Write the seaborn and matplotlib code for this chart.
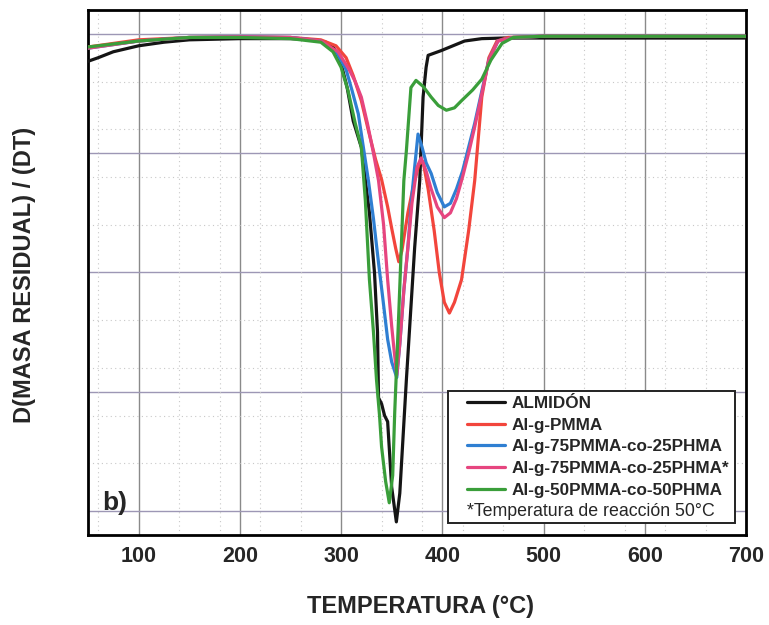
import numpy as np
import pandas as pd
import matplotlib
matplotlib.use("Agg")
import matplotlib.pyplot as plt
from matplotlib.ticker import MultipleLocator, NullFormatter
from matplotlib.patches import Rectangle
import seaborn as sns

# ---------------- data ----------------
series_names = ["ALMIDÓN", "Al-g-PMMA", "Al-g-75PMMA-co-25PHMA",
                "Al-g-75PMMA-co-25PHMA*", "Al-g-50PMMA-co-50PHMA"]

almidon_T = [50, 60, 75, 100, 125, 150, 200, 250, 275, 285, 293, 300, 306, 312,
             320, 328, 333, 336, 337, 340, 343, 346, 350, 354.6, 358, 364.5,
             372.7, 377.7, 381, 384, 386, 399, 422, 439, 460, 500, 550, 600, 650, 700]
almidon_Y = [-0.23, -0.20, -0.15, -0.10, -0.07, -0.05, -0.04, -0.04, -0.05, -0.07,
             -0.12, -0.25, -0.45, -0.73, -0.95, -1.50, -2.0, -2.5, -3.05, -3.1,
             -3.2, -3.25, -3.8, -4.09, -3.85, -2.9, -1.79, -1.23, -0.53, -0.28,
             -0.18, -0.14, -0.06, -0.04, -0.035, -0.035, -0.035, -0.035, -0.035, -0.035]

pmma_T = [50, 75, 100, 150, 200, 250, 280, 295, 305, 312, 320, 327, 334, 340, 346,
          350, 354, 357, 360, 366, 372, 377, 381, 386, 392, 397, 402, 407, 412, 419,
          426, 432, 439, 446, 454, 465, 500, 600, 700]
pmma_Y = [-0.11, -0.08, -0.05, -0.03, -0.025, -0.03, -0.05, -0.1, -0.2, -0.35,
          -0.56, -0.81, -1.05, -1.22, -1.45, -1.63, -1.8, -1.91, -1.82, -1.5, -1.25,
          -1.09, -1.07, -1.3, -1.65, -2.0, -2.25, -2.34, -2.25, -2.06, -1.65, -1.23,
          -0.53, -0.2, -0.06, -0.03, -0.02, -0.02, -0.02]

co75_T = [50, 100, 150, 200, 250, 280, 295, 305, 311, 317, 322, 327, 332, 337, 341,
          346, 350, 355, 358, 362, 366, 370, 373, 376, 380, 384, 389, 395, 402, 408,
          414, 420, 426, 432, 439, 446, 455, 470, 500, 700]
co75_Y = [-0.12, -0.06, -0.03, -0.025, -0.03, -0.06, -0.15, -0.3, -0.48, -0.67,
          -0.95, -1.23, -1.55, -1.92, -2.2, -2.56, -2.75, -2.88, -2.6, -2.15, -1.79,
          -1.35, -1.09, -0.84, -0.95, -1.08, -1.17, -1.33, -1.45, -1.42, -1.3, -1.15,
          -0.95, -0.75, -0.48, -0.22, -0.06, -0.03, -0.02, -0.02]

co75b_T = [50, 100, 150, 200, 250, 280, 297, 308, 314, 320, 326, 332, 337, 342, 346,
           350, 352, 355, 358, 362, 366, 370, 375, 379, 384, 389, 395, 402, 408, 414,
           420, 426, 432, 439, 446, 455, 470, 500, 700]
co75b_Y = [-0.12, -0.06, -0.03, -0.025, -0.03, -0.06, -0.15, -0.3, -0.4, -0.53,
           -0.75, -1.0, -1.23, -1.6, -2.06, -2.45, -2.62, -2.86, -2.6, -2.15, -1.79,
           -1.42, -1.12, -1.04, -1.15, -1.3, -1.45, -1.54, -1.5, -1.38, -1.2, -1.0,
           -0.78, -0.5, -0.22, -0.06, -0.03, -0.02, -0.02]

co50_T = [50, 100, 150, 200, 250, 280, 292, 300, 307, 314, 320, 324, 328, 332, 335,
          338, 340, 344, 347.6, 351, 353, 357, 362, 364.5, 369, 374, 381, 389, 396,
          404, 412, 419, 430, 439, 448, 459, 470, 500, 700]
co50_Y = [-0.11, -0.06, -0.03, -0.03, -0.04, -0.07, -0.15, -0.28, -0.48, -0.75,
          -0.95, -1.4, -2.06, -2.5, -2.9, -3.2, -3.46, -3.75, -3.93, -3.7, -3.17,
          -2.34, -1.23, -0.98, -0.45, -0.39, -0.44, -0.53, -0.6, -0.64, -0.62, -0.56,
          -0.47, -0.38, -0.22, -0.08, -0.03, -0.02, -0.02]

colors = ["#151515", "#f2453c", "#2f7fd2", "#e6457f", "#3a9e3a"]
xticks = [100, 200, 300, 400, 500, 600, 700]
note_text = "*Temperatura de reacción 50°C"

# ---------------- build long table ----------------
frames = []
for name, T, Y in zip(series_names,
                      [almidon_T, pmma_T, co75_T, co75b_T, co50_T],
                      [almidon_Y, pmma_Y, co75_Y, co75b_Y, co50_Y]):
    frames.append(pd.DataFrame({"T": T, "Y": Y, "serie": name}))
df = pd.concat(frames, ignore_index=True)

# ---------------- style ----------------
sns.set_style("white")
plt.rcParams["font.family"] = ["Liberation Sans", "DejaVu Sans"]

fig = plt.figure(figsize=(7.69, 6.25), dpi=100)
ax = fig.add_axes([88 / 769, 1 - 535 / 625, (746 - 88) / 769, (535 - 10) / 625])

palette = dict(zip(series_names, colors))
sns.lineplot(data=df, x="T", y="Y", hue="serie", hue_order=series_names,
             palette=palette, sort=False, estimator=None, linewidth=2.3,
             ax=ax, legend=False, zorder=3)

ax.set_xlim(50, 700)
ax.set_ylim(-4.2, 0.2)
ax.set_xticks(xticks)
ax.set_xticklabels([str(v) for v in xticks])
ax.xaxis.set_minor_locator(MultipleLocator(20))
ax.yaxis.set_major_locator(MultipleLocator(1))
ax.yaxis.set_minor_locator(MultipleLocator(0.2))
ax.yaxis.set_major_formatter(NullFormatter())

# grid
ax.grid(False)
for v in xticks[:-1]:
    ax.axvline(v, color="#8a8a8a", lw=1.0, zorder=1)
for v in [0, -1, -2, -3, -4]:
    ax.axhline(v, color="#9d97b5", lw=1.0, zorder=1)
for v in np.arange(60, 700, 40):
    if v % 100:
        ax.axvline(v, color="#c8c8c8", lw=0.8, ls=(0, (1, 3)), zorder=1)
for v in np.arange(-4.0, 0.2, 0.4):
    if abs(v - round(v)) > 1e-6:
        ax.axhline(v, color="#c8c8c8", lw=0.8, ls=(0, (1, 3)), zorder=1)

for s in ax.spines.values():
    s.set_linewidth(2.0)
    s.set_color("black")

ax.tick_params(axis="both", which="major", direction="out", length=7, width=1.6,
               color="black")
ax.tick_params(axis="both", which="minor", direction="out", length=3.5, width=1.4,
               color="black")
ax.tick_params(axis="x", which="major", labelsize=15.5, pad=1)
for lbl in ax.get_xticklabels():
    lbl.set_fontweight("bold")

ax.set_xlabel("TEMPERATURA (°C)", fontsize=17, fontweight="bold")
ax.xaxis.set_label_coords((421 - 88) / 658, (535 - 595) / 525)
ax.set_ylabel("D(MASA RESIDUAL) / (DT)", fontsize=17, fontweight="bold")
ax.yaxis.set_label_coords((36 - 88) / 658, (535 - 275) / 525)

ax.text((102 - 88) / 658, (535 - 503) / 525, "b)", transform=ax.transAxes,
        fontsize=19, fontweight="bold", ha="left", va="center", zorder=5)

# legend box
box = Rectangle(((448 - 88) / 658, (535 - 523) / 525), (735 - 448) / 658,
                (523 - 391) / 525, transform=ax.transAxes, facecolor="white",
                edgecolor="#222222", lw=1.4, zorder=6)
ax.add_patch(box)
handles = [plt.Line2D([], [], color=c, lw=2.3) for c in colors]
leg = ax.legend(handles, series_names, loc="upper left",
                bbox_to_anchor=((467 - 88) / 658, (535 - 396) / 525),
                frameon=False, borderpad=0, borderaxespad=0,
                handlelength=2.22, handletextpad=0.41, labelspacing=0.39,
                prop={"weight": "bold", "size": 12.3})
leg.set_zorder(7)
ax.text((467 - 88) / 658, (535 - 512) / 525, note_text, transform=ax.transAxes,
        fontsize=12.8, ha="left", va="center", zorder=7)

fig.savefig("out.png", dpi=100, facecolor="white")
